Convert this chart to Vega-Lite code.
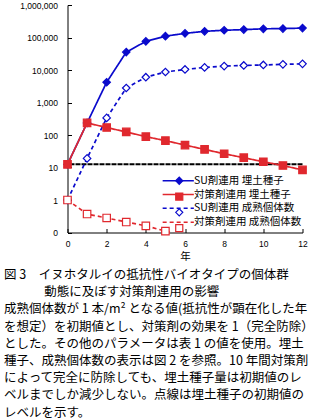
{
  "$schema": "https://vega.github.io/schema/vega-lite/v6.json",
  "width": 235,
  "height": 227.5,
  "autosize": {"type": "none"},
  "padding": {"left": 67.5, "top": 5, "right": 20.5, "bottom": 187.5},
  "background": "white",
  "title": {
    "text": [
      "図 3　イヌホタルイの抵抗性バイオタイプの個体群",
      "\u200b　　　 動態に及ぼす対策剤連用の影響",
      "成熟個体数が 1 本/m² となる値(抵抗性が顕在化した年",
      "を想定）を初期値とし、対策剤の効果を 1（完全防除）",
      "とした。その他のパラメータは表 1 の値を使用。埋土",
      "種子、成熟個体数の表示は図 2 を参照。10 年間対策剤",
      "によって完全に防除しても、埋土種子量は初期値のレ",
      "ベルまでしか減少しない。点線は埋土種子の初期値の",
      "レベルを示す。"
    ],
    "orient": "bottom",
    "anchor": "start",
    "frame": "group",
    "dx": -63.5,
    "offset": 7,
    "font": "Noto Sans CJK JP",
    "fontSize": 12.5,
    "fontWeight": "normal",
    "color": "#000",
    "lineHeight": 17.2
  },
  "config": {
    "view": {"stroke": null},
    "axis": {
      "grid": false,
      "domainColor": "#000",
      "tickColor": "#000",
      "labelColor": "#000",
      "labelFont": "Liberation Sans",
      "labelFontSize": 8.5,
      "labelFlush": false,
      "labelOverlap": false,
      "tickSize": -4
    }
  },
  "data": {
    "values": [
      {"series": "SU剤連用 成熟個体数", "year": 0, "value": 1},
      {"series": "SU剤連用 成熟個体数", "year": 1, "value": 19},
      {"series": "SU剤連用 成熟個体数", "year": 2, "value": 335},
      {"series": "SU剤連用 成熟個体数", "year": 3, "value": 2800},
      {"series": "SU剤連用 成熟個体数", "year": 4, "value": 6000},
      {"series": "SU剤連用 成熟個体数", "year": 5, "value": 8700},
      {"series": "SU剤連用 成熟個体数", "year": 6, "value": 10400},
      {"series": "SU剤連用 成熟個体数", "year": 7, "value": 12000},
      {"series": "SU剤連用 成熟個体数", "year": 8, "value": 13200},
      {"series": "SU剤連用 成熟個体数", "year": 9, "value": 13800},
      {"series": "SU剤連用 成熟個体数", "year": 10, "value": 14300},
      {"series": "SU剤連用 成熟個体数", "year": 11, "value": 14900},
      {"series": "SU剤連用 成熟個体数", "year": 12, "value": 15500},
      {"series": "対策剤連用 成熟個体数", "year": 0, "value": 1},
      {"series": "対策剤連用 成熟個体数", "year": 1, "value": 0.37},
      {"series": "対策剤連用 成熟個体数", "year": 2, "value": 0.28},
      {"series": "対策剤連用 成熟個体数", "year": 3, "value": 0.21},
      {"series": "対策剤連用 成熟個体数", "year": 4, "value": 0.16},
      {"series": "対策剤連用 成熟個体数", "year": 5, "value": 0.11},
      {"series": "対策剤連用 成熟個体数", "year": 6, "value": 0.075},
      {"series": "SU剤連用 埋土種子", "year": 0, "value": 12.5},
      {"series": "SU剤連用 埋土種子", "year": 1, "value": 235},
      {"series": "SU剤連用 埋土種子", "year": 2, "value": 4200},
      {"series": "SU剤連用 埋土種子", "year": 3, "value": 35500},
      {"series": "SU剤連用 埋土種子", "year": 4, "value": 76000},
      {"series": "SU剤連用 埋土種子", "year": 5, "value": 110000},
      {"series": "SU剤連用 埋土種子", "year": 6, "value": 134000},
      {"series": "SU剤連用 埋土種子", "year": 7, "value": 155000},
      {"series": "SU剤連用 埋土種子", "year": 8, "value": 167000},
      {"series": "SU剤連用 埋土種子", "year": 9, "value": 175000},
      {"series": "SU剤連用 埋土種子", "year": 10, "value": 185000},
      {"series": "SU剤連用 埋土種子", "year": 11, "value": 188000},
      {"series": "SU剤連用 埋土種子", "year": 12, "value": 195000},
      {"series": "対策剤連用 埋土種子", "year": 0, "value": 12.5},
      {"series": "対策剤連用 埋土種子", "year": 1, "value": 235},
      {"series": "対策剤連用 埋土種子", "year": 2, "value": 170},
      {"series": "対策剤連用 埋土種子", "year": 3, "value": 124},
      {"series": "対策剤連用 埋土種子", "year": 4, "value": 89},
      {"series": "対策剤連用 埋土種子", "year": 5, "value": 67},
      {"series": "対策剤連用 埋土種子", "year": 6, "value": 49},
      {"series": "対策剤連用 埋土種子", "year": 7, "value": 36},
      {"series": "対策剤連用 埋土種子", "year": 8, "value": 26.5},
      {"series": "対策剤連用 埋土種子", "year": 9, "value": 20},
      {"series": "対策剤連用 埋土種子", "year": 10, "value": 15},
      {"series": "対策剤連用 埋土種子", "year": 11, "value": 11.5},
      {"series": "対策剤連用 埋土種子", "year": 12, "value": 8.4}
    ]
  },
  "layer": [
    {
      "data": {"values": [{"value": 12.5}]},
      "mark": {"type": "rule", "color": "#000", "strokeWidth": 2, "strokeDash": [5, 1]},
      "encoding": {
        "y": {"field": "value", "type": "quantitative", "title": null,
          "scale": {"type": "log", "domain": [0.1, 1000000], "nice": false},
          "axis": {"values": [0.1, 1, 10, 100, 1000, 10000, 100000, 1000000], "labelExpr": "datum.value < 1 ? '0' : format(datum.value, ',')", "labelPadding": 14, "title": null}}
      }
    },
    {
      "mark": {"type": "line", "strokeWidth": 1.7, "clip": true},
      "encoding": {
        "x": {"field": "year", "type": "quantitative",
          "scale": {"domain": [0, 12], "nice": false, "zero": false},
          "axis": {"values": [0, 2, 4, 6, 8, 10, 12], "labelPadding": 11, "labelAngle": 0, "title": "年", "titleFont": "Noto Sans CJK JP", "titleFontSize": 10.5, "titleFontWeight": "normal", "titleColor": "#000", "titlePadding": 3.5}},
        "y": {"field": "value", "type": "quantitative", "title": null,
          "scale": {"type": "log", "domain": [0.1, 1000000], "nice": false},
          "axis": {"values": [0.1, 1, 10, 100, 1000, 10000, 100000, 1000000], "labelExpr": "datum.value < 1 ? '0' : format(datum.value, ',')", "labelPadding": 14, "title": null}},
        "color": {"field": "series", "type": "nominal",
          "scale": {"domain": ["SU剤連用 埋土種子", "対策剤連用 埋土種子", "SU剤連用 成熟個体数", "対策剤連用 成熟個体数"], "range": ["#0A0ACC", "#E0282E", "#0A0ACC", "#E0282E"]},
          "legend": {"orient": "none", "legendX": 105.5, "legendY": 170.5, "title": null, "symbolType": "M-3.9,0H3.9", "symbolSize": 64, "symbolStrokeWidth": 1.5, "labelFont": "Noto Sans CJK JP", "labelFontSize": 10.5, "labelColor": "#000", "labelOffset": 10.5, "rowPadding": 2.8, "padding": 0, "labelLimit": 200}},
        "strokeDash": {"field": "series", "type": "nominal",
          "scale": {"domain": ["SU剤連用 埋土種子", "対策剤連用 埋土種子", "SU剤連用 成熟個体数", "対策剤連用 成熟個体数"], "range": [[1, 0], [1, 0], [4, 3], [4, 3]]}}
      }
    },
    {
      "transform": [{"filter": "datum.value >= 0.1"}],
      "mark": {"type": "point", "filled": true, "opacity": 1, "size": 56, "strokeWidth": 1.2},
      "encoding": {
        "x": {"field": "year", "type": "quantitative",
          "scale": {"domain": [0, 12], "nice": false, "zero": false},
          "axis": {"values": [0, 2, 4, 6, 8, 10, 12], "labelPadding": 11, "labelAngle": 0, "title": "年", "titleFont": "Noto Sans CJK JP", "titleFontSize": 10.5, "titleFontWeight": "normal", "titleColor": "#000", "titlePadding": 3.5}},
        "y": {"field": "value", "type": "quantitative", "title": null,
          "scale": {"type": "log", "domain": [0.1, 1000000], "nice": false},
          "axis": {"values": [0.1, 1, 10, 100, 1000, 10000, 100000, 1000000], "labelExpr": "datum.value < 1 ? '0' : format(datum.value, ',')", "labelPadding": 14, "title": null}},
        "shape": {"field": "series", "type": "nominal",
          "scale": {"domain": ["対策剤連用 埋土種子", "SU剤連用 埋土種子", "SU剤連用 成熟個体数", "対策剤連用 成熟個体数"], "range": ["square", "diamond", "diamond", "square"]},
          "legend": {"orient": "none", "legendX": 106.5, "legendY": 170.5, "title": null, "values": ["SU剤連用 埋土種子", "対策剤連用 埋土種子", "SU剤連用 成熟個体数", "対策剤連用 成熟個体数"], "labelExpr": "'\u200b'", "symbolSize": 50, "symbolStrokeWidth": 1.2, "labelFont": "Noto Sans CJK JP", "labelFontSize": 10.5, "labelOpacity": 0, "labelOffset": 1, "rowPadding": 2.8, "padding": 0, "labelLimit": 200}},
        "fill": {"field": "series", "type": "nominal",
          "scale": {"domain": ["対策剤連用 埋土種子", "SU剤連用 埋土種子", "SU剤連用 成熟個体数", "対策剤連用 成熟個体数"], "range": ["#E0282E", "#0A0ACC", "#FFFFFF", "#FFFFFF"]}},
        "stroke": {"field": "series", "type": "nominal",
          "scale": {"domain": ["対策剤連用 埋土種子", "SU剤連用 埋土種子", "SU剤連用 成熟個体数", "対策剤連用 成熟個体数"], "range": ["#E0282E", "#0A0ACC", "#0A0ACC", "#E0282E"]}}
      }
    }
  ]
}
